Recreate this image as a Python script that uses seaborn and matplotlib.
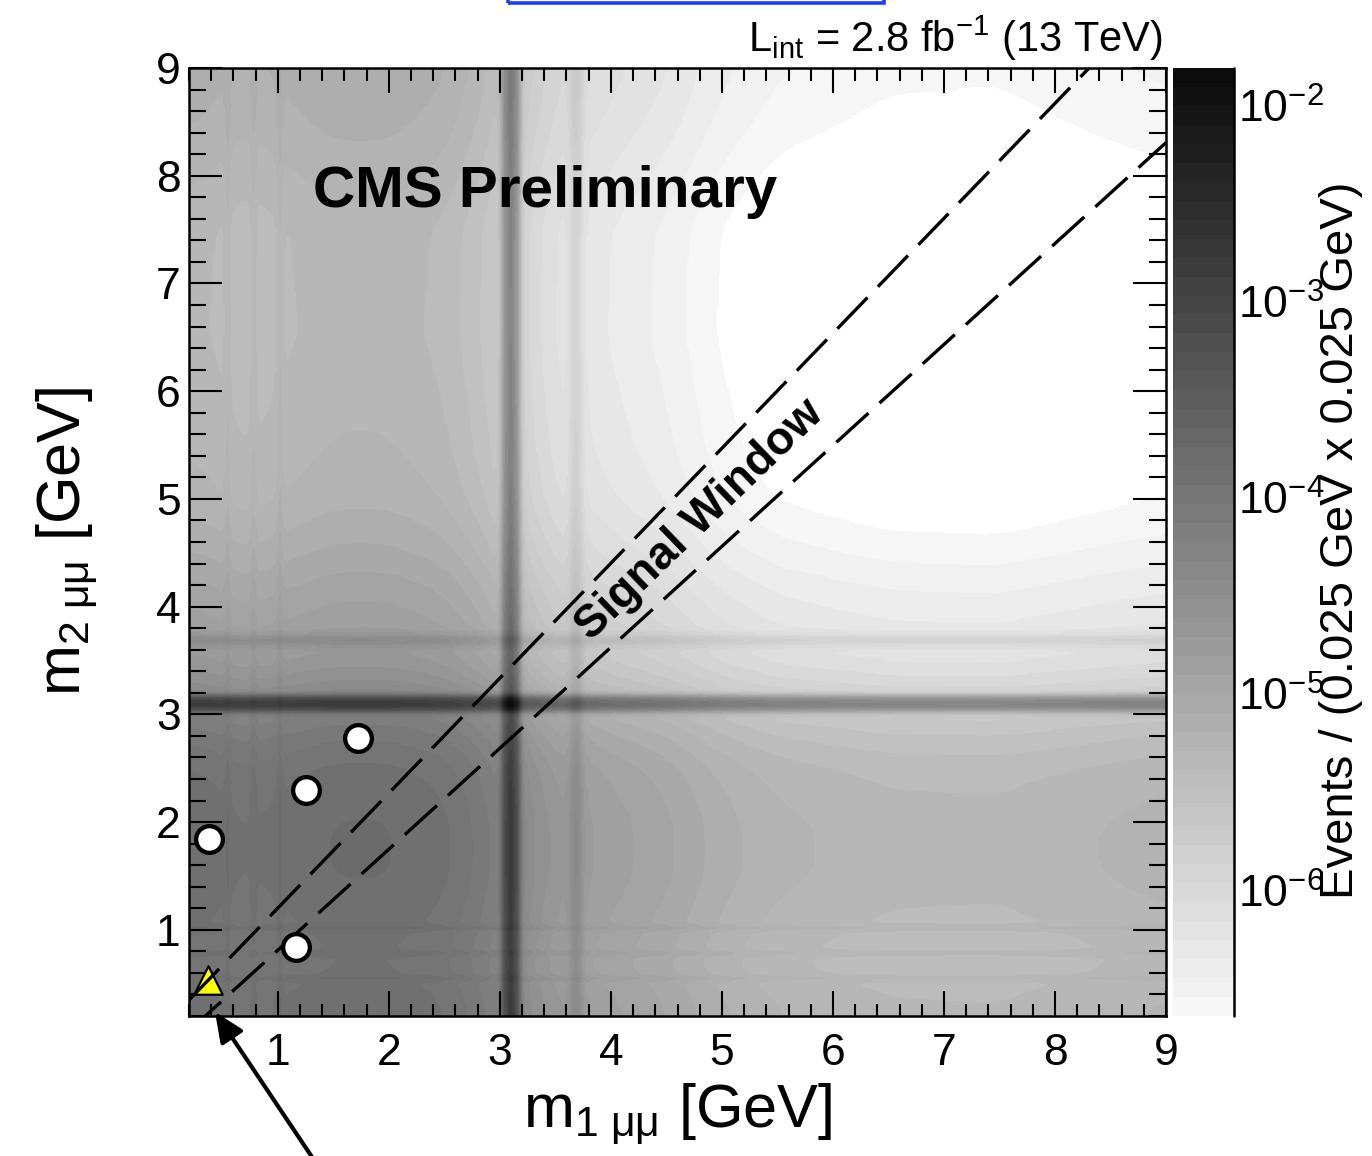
import numpy as np
import pandas as pd
import matplotlib
matplotlib.use("Agg")
import matplotlib.pyplot as plt
import seaborn as sns
from matplotlib.colors import LinearSegmentedColormap, LogNorm
from matplotlib.ticker import MultipleLocator, LogLocator, NullFormatter, FixedLocator
from matplotlib.patches import Rectangle, FancyArrowPatch

# ---------------- data ----------------
# 1D continuum shapes of the background template (log10, relative), read from the map
cont_mass = [0.21, 0.4, 0.7, 1.0, 1.5, 2.0, 2.5, 2.9, 3.1, 3.4, 3.8, 4.2, 4.5, 5.0, 5.5, 6.5, 7.5, 8.5, 9.0]
cont_log_m1 = [0.05, 0.03, -0.05, 0.0, 0.07, 0.07, 0.0, -0.2, -0.4, -0.7, -0.9, -1.0, -1.07, -1.25,
               -1.36, -1.44, -1.45, -1.38, -1.35]
cont_log_m2 = [0.05, 0.03, -0.05, 0.0, 0.07, 0.07, 0.0, -0.2, -0.4, -0.7, -0.92, -1.05, -1.17, -1.32,
               -1.38, -1.44, -1.43, -1.26, -1.2]
# resonances (eta, omega, phi, J/psi, psi(2S))
res_mass = [0.548, 0.782, 1.019, 3.097, 3.686]
res_amp = [0.22, 0.2, 0.28, 12.0, 0.17]
res_width = [0.02, 0.02, 0.02, 0.038, 0.04]
bkg_norm_log = -3.97

# observed events (off-diagonal) and the event in the signal window
data_m1 = [0.38, 1.25, 1.72, 1.16]
data_m2 = [1.84, 2.30, 2.78, 0.84]
sig_m1 = [0.37]
sig_m2 = [0.53]

# signal window |m1-m2| < a + b*(m1+m2)
win_a = 0.13
win_b = 0.0325

axis_ticks = [1, 2, 3, 4, 5, 6, 7, 8, 9]
cbar_ticks = [1e-6, 1e-5, 1e-4, 1e-3, 1e-2]
z_min, z_max = 10 ** -6.64, 10 ** -1.81

# ---------------- style ----------------
sns.set_style("ticks")
plt.rcParams["font.family"] = ["Liberation Sans", "DejaVu Sans"]
plt.rcParams["mathtext.fontset"] = "custom"
plt.rcParams["mathtext.rm"] = "Liberation Sans"
plt.rcParams["mathtext.it"] = "Liberation Sans"
plt.rcParams["mathtext.bf"] = "Liberation Sans:bold"
for key in ["text.color", "axes.labelcolor", "xtick.color", "ytick.color", "axes.edgecolor"]:
    plt.rcParams[key] = "black"

W, H = 1372, 1156
fig = plt.figure(figsize=(W / 100, H / 100), dpi=100)
fig.patch.set_facecolor("white")

def fx(px):
    return px / W

def fy(py):
    return 1 - py / H

ax = fig.add_axes([fx(189), fy(1016), fx(1166) - fx(189), fy(68) - fy(1016)])
cax = fig.add_axes([fx(1173), fy(1016), fx(1234) - fx(1173), fy(68) - fy(1016)])

# ---------------- background map ----------------
grid = np.linspace(0.2, 9.0, 881)
centers = 0.5 * (grid[1:] + grid[:-1])
kern = np.exp(-0.5 * (np.arange(-40, 41) * 0.01 / 0.12) ** 2)
kern /= kern.sum()

def profile(cont_log):
    c = np.interp(centers, cont_mass, cont_log)
    c = np.convolve(np.pad(c, 40, mode="edge"), kern, mode="valid")
    p = 10 ** c
    for m, a, s in zip(res_mass, res_amp, res_width):
        p = p + a * np.exp(-0.5 * ((centers - m) / s) ** 2)
    return p

Z = 10 ** bkg_norm_log * np.outer(profile(cont_log_m2), profile(cont_log_m1))  # rows m2, cols m1

cmap = LinearSegmentedColormap.from_list("rootgrey", ["#f6f6f6", "#0c0c0c"], N=50)
cmap.set_under("white")
norm = LogNorm(vmin=z_min, vmax=z_max)
im = ax.imshow(Z, origin="lower", extent=[0.2, 9.0, 0.2, 9.0], aspect="auto",
               cmap=cmap, norm=norm, interpolation="nearest", zorder=0)

# ---------------- signal window lines ----------------
xs = np.array([0.2, 9.0])
win = pd.DataFrame({
    "m1": np.concatenate([xs, xs]),
    "m2": np.concatenate([(win_a + (1 + win_b) * xs) / (1 - win_b),
                          ((1 - win_b) * xs - win_a) / (1 + win_b)]),
    "edge": ["upper"] * 2 + ["lower"] * 2,
})
sns.lineplot(data=win, x="m1", y="m2", units="edge", estimator=None, color="black",
             lw=2.4, ax=ax, zorder=3, sort=False)
for ln in ax.get_lines():
    ln.set_linestyle((0, (13, 4.5)))

# ---------------- events ----------------
sig_df = pd.DataFrame({"m1": sig_m1, "m2": sig_m2})
sns.scatterplot(data=sig_df, x="m1", y="m2", marker="^", s=420, color="#ffff00",
                edgecolor="black", linewidth=1.6, ax=ax, zorder=2)
dat_df = pd.DataFrame({"m1": data_m1, "m2": data_m2})
sns.scatterplot(data=dat_df, x="m1", y="m2", marker="o", s=370, color="white",
                edgecolor="black", linewidth=3.1, ax=ax, zorder=4)

# ---------------- axes ----------------
ax.set_xlim(0.2, 9.0)
ax.set_ylim(0.2, 9.0)
ax.xaxis.set_major_locator(FixedLocator(axis_ticks))
ax.yaxis.set_major_locator(FixedLocator(axis_ticks))
ax.xaxis.set_minor_locator(MultipleLocator(0.2))
ax.yaxis.set_minor_locator(MultipleLocator(0.2))
ax.tick_params(axis="x", which="major", direction="in", length=18, width=1.5,
               top=True, bottom=True, labelsize=32, pad=12)
ax.tick_params(axis="x", which="minor", direction="in", length=9, width=1.5, top=True, bottom=True)
ax.tick_params(axis="y", which="major", direction="in", length=24, width=1.5,
               left=True, right=True, labelsize=32, pad=6)
ax.tick_params(axis="y", which="minor", direction="in", length=12, width=1.5, left=True, right=True)
for sp in ax.spines.values():
    sp.set_linewidth(1.8)
    sp.set_color("black")
    sp.set_zorder(5)

ax.set_xlabel(r"m$_{1\ \mathregular{μμ}}$ [GeV]", fontsize=44, labelpad=6)
ax.set_ylabel(r"m$_{2\ \mathregular{μμ}}$ [GeV]", fontsize=44, labelpad=40)

# ---------------- colorbar ----------------
cb = fig.colorbar(im, cax=cax, extend="neither")
cb.outline.set_visible(False)
cax.yaxis.set_ticks_position("right")
cax.yaxis.set_major_locator(FixedLocator(cbar_ticks))
cax.yaxis.set_minor_locator(LogLocator(base=10, subs=np.arange(2, 10)))
cax.yaxis.set_minor_formatter(NullFormatter())
cax.set_yticklabels([r"10$^{-6}$", r"10$^{-5}$", r"10$^{-4}$", r"10$^{-3}$", r"10$^{-2}$"])
cax.tick_params(axis="y", which="major", direction="in", length=30, width=1.3,
                labelsize=32, pad=3, colors="black")
cax.tick_params(axis="y", which="minor", direction="in", length=15, width=1.3)
cax.plot([1, 1], [0, 1], transform=cax.transAxes, color="black", lw=1.8, clip_on=False)

fig.text(fx(1341), fy(540), "Events / (0.025 GeV x 0.025 GeV)", rotation=90,
         ha="center", va="center", fontsize=34, color="black")

# ---------------- annotations ----------------
ax.text(1.317, 7.85, "CMS Preliminary", fontsize=42, fontweight="bold",
        ha="left", va="center", zorder=6, color="black")
ax.text(4.80, 4.80, "Signal Window", fontsize=33, fontweight="bold", rotation=44,
        rotation_mode="anchor", ha="center", va="center", zorder=6, color="black")
fig.text(fx(1163), fy(38), r"L$_{\mathregular{int}}$ = 2.8 fb$^{\mathregular{-1}}$ (13 TeV)",
         ha="right", va="center", fontsize=30, color="black")

fig.add_artist(Rectangle((fx(508), fy(3)), fx(884) - fx(508), 0.2, fill=False,
                         edgecolor="#1a3cff", lw=2.6, transform=fig.transFigure,
                         clip_on=False))
arrow = FancyArrowPatch((fx(318), fy(1166)), (fx(215), fy(1012)),
                        transform=fig.transFigure, arrowstyle="-|>,head_length=0.9,head_width=0.4",
                        mutation_scale=20, color="black", lw=3, shrinkA=0, shrinkB=0,
                        clip_on=False)
fig.add_artist(arrow)

fig.savefig("out.png", dpi=100, facecolor="white")
